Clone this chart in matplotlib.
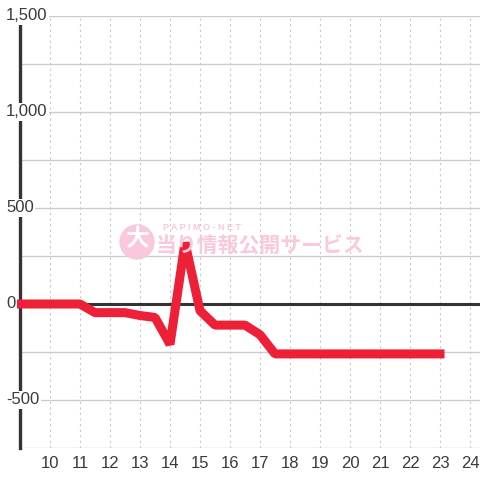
import matplotlib
matplotlib.use("Agg")
import matplotlib.pyplot as plt
import matplotlib.transforms as mtransforms
import numpy as np
from matplotlib.patches import Circle

# hourly balance (every half hour)
hours = [9, 9.5, 10, 10.5, 11, 11.5, 12, 12.5, 13, 13.5, 14, 14.5, 15, 15.5, 16, 16.5,
         17, 17.5, 18, 18.5, 19, 19.5, 20, 20.5, 21, 21.5, 22, 22.5, 23]
balance = [0, 0, 0, 0, 0, -45, -45, -45, -60, -70, -210, 320, -35, -110, -110, -110,
           -160, -260, -260, -260, -260, -260, -260, -260, -260, -260, -260, -260, -260]
x_ticks = list(range(10, 25))
y_ticks = [-500, 0, 500, 1000, 1500]
y_labels = ["-500", "0", "500", "1,000", "1,500"]

plt.rcParams['font.family'] = ['Liberation Sans', 'DejaVu Sans']

fig = plt.figure(figsize=(4.8, 4.8), dpi=100)
fig.patch.set_facecolor("white")
ax = fig.add_axes([20 / 480, 32 / 480, 460 / 480, 432 / 480])
ax.set_xlim(9, 24.333)
ax.set_ylim(-750, 1500)

for s in ["top", "right", "bottom"]:
    ax.spines[s].set_visible(False)
ax.spines["left"].set_color("#333333")
ax.spines["left"].set_linewidth(2.4)
ax.spines["left"].set_zorder(2)

# grid
for v in np.arange(-750, 1501, 250):
    if v != 0:
        ax.axhline(v, color="#cccccc", lw=1, zorder=0)
for x in x_ticks:
    ax.axvline(x, color="#c8c8c8", lw=0.8, ls=(0, (2, 3)), zorder=0)
ax.axhline(0, color="#333333", lw=2.2, zorder=1)

# watermark
pink = "#f9c8dd"
ax.add_patch(Circle((137, 238), 17, transform=None, color=pink, zorder=1))
fig.text(137 / 480, 1 - 239 / 480, "大", color="white", fontsize=17, fontweight="bold",
         ha="center", va="center", family=["Noto Sans CJK JP"], zorder=2)
fig.text(163 / 480, 1 - 227 / 480, "P A P I M O - N E T", color=pink, fontsize=6.5,
         fontweight="bold", ha="left", va="center", zorder=2)
fig.text(156 / 480, 1 - 246 / 480, "当り情報公開サービス", color=pink, fontsize=15,
         fontweight="bold", ha="left", va="center", family=["Noto Sans CJK JP"], zorder=2)

ax.plot(hours, balance, color="#ee2037", lw=6.5, solid_capstyle="projecting",
        solid_joinstyle="bevel", clip_on=False, zorder=3)

ax.set_xticks(x_ticks)
ax.set_xticklabels([str(x) for x in x_ticks])
ax.tick_params(axis="x", length=0, pad=6, labelsize=12, labelcolor="#3a3a3a")
ax.set_yticks(y_ticks)
ax.set_yticklabels([])
ax.tick_params(axis="y", length=0)
trans = mtransforms.blended_transform_factory(fig.transFigure, ax.transData)
for v, lab in zip(y_ticks, y_labels):
    t = ax.text(6 / 480, v, lab, transform=trans, fontsize=12,
                color="#3a3a3a", ha="left", va="center", zorder=4, clip_on=False)
    t.set_bbox(dict(facecolor="white", edgecolor="none", pad=1.2))

fig.savefig("out.png", dpi=100)
